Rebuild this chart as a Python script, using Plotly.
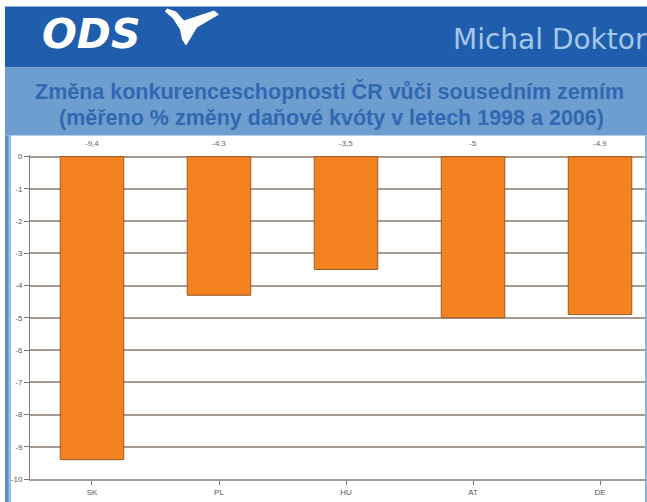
import plotly.graph_objects as go

# ---- data ----
countries = ["SK", "PL", "HU", "AT", "DE"]
change = [-9.4, -4.3, -3.5, -5.0, -4.9]
value_labels = ["-9,4", "-4,3", "-3,5", "-5", "-4,9"]
y_ticks = [0, -1, -2, -3, -4, -5, -6, -7, -8, -9, -10]
title_line1 = "Změna konkurenceschopnosti ČR vůči sousedním zemím"
title_line2 = "(měřeno % změny daňové kvóty v letech 1998 a 2006)"
logo_text = "ODS"
author = "Michal Doktor"

# ---- layout geometry (pixels) ----
W, H = 647, 502
PL, PR = 30, 645          # plot area x
PT, PB = 155.4, 479       # plot area y
YMAX, YMIN = 0.05, -10

def px(x):
    return (x - PL) / (PR - PL)

def py(y):
    return (PB - y) / (PB - PT)

fig = go.Figure()
fig.add_trace(go.Bar(
    x=list(range(len(countries))), y=change,
    marker=dict(color="#F4821F", line=dict(color="#9A5A25", width=1)),
    width=0.5, showlegend=False, hoverinfo="y",
))

shapes = []
# dark banner
shapes.append(dict(type="rect", xref="paper", yref="paper", x0=px(5), x1=px(W + 2),
                   y0=py(68), y1=py(7), fillcolor="#1F5EAD", line=dict(width=0), layer="below"))
# light title band
shapes.append(dict(type="rect", xref="paper", yref="paper", x0=px(5), x1=px(W + 2),
                   y0=py(136), y1=py(68), fillcolor="#6E9ED0", line=dict(width=0), layer="below"))
# left border strip
shapes.append(dict(type="rect", xref="paper", yref="paper", x0=px(5), x1=px(11),
                   y0=py(H + 2), y1=py(136), fillcolor="#5F90CC", line=dict(width=0), layer="below"))
shapes.append(dict(type="rect", xref="paper", yref="paper", x0=px(8.5), x1=px(11),
                   y0=py(H + 2), y1=py(136), fillcolor="#9DBDE3", line=dict(width=0), layer="below"))
# right border strip
shapes.append(dict(type="rect", xref="paper", yref="paper", x0=px(645), x1=px(W + 2),
                   y0=py(H + 2), y1=py(136), fillcolor="#8DB2DD", line=dict(width=0), layer="below"))

# bird logo
bird = [(167, 9), (176, 12), (184, 21), (214, 11), (219, 15), (197, 28), (191, 38),
        (186, 46), (182, 40), (180, 30), (173, 19), (165, 12)]
path = "M " + " L ".join(f"{px(a):.5f},{py(b):.5f}" for a, b in bird) + " Z"
shapes.append(dict(type="path", xref="paper", yref="paper", path=path,
                   fillcolor="white", line=dict(width=0)))

annotations = []
annotations.append(dict(xref="paper", yref="paper", x=px(40), y=py(35), xanchor="left", yanchor="middle",
                        text=f"<b><i>{logo_text}</i></b>", showarrow=False,
                        font=dict(family="DejaVu Sans", size=41, color="white")))
annotations.append(dict(xref="paper", yref="paper", x=px(451), y=py(40), xanchor="left", yanchor="middle",
                        text=author, showarrow=False,
                        font=dict(family="DejaVu Sans", size=28, color="#A6C6EC")))
annotations.append(dict(xref="paper", yref="paper", x=px(329), y=py(92), xanchor="center", yanchor="middle",
                        text=f"<b>{title_line1}</b>", showarrow=False,
                        font=dict(family="Liberation Sans", size=21.5, color="#3068B2")))
annotations.append(dict(xref="paper", yref="paper", x=px(331), y=py(118), xanchor="center", yanchor="middle",
                        text=f"<b>{title_line2}</b>", showarrow=False,
                        font=dict(family="Liberation Sans", size=21.5, color="#3068B2")))
for i, lab in enumerate(value_labels):
    annotations.append(dict(xref="x", yref="y", x=i, y=0, yshift=13, xanchor="center", yanchor="middle",
                            text=lab, showarrow=False,
                            font=dict(family="Liberation Sans", size=8, color="#666666")))

grid_col = "#A89892"
fig.update_layout(
    width=W, height=H,
    margin=dict(l=PL, r=W - PR, t=PT, b=H - PB, pad=0),
    paper_bgcolor="white", plot_bgcolor="white",
    shapes=shapes, annotations=annotations,
    xaxis=dict(
        range=[-0.488, 4.354], tickmode="array", tickvals=list(range(len(countries))),
        ticktext=countries, showgrid=False, zeroline=False,
        showline=True, linecolor=grid_col, linewidth=2,
        ticks="outside", ticklen=4, tickcolor="#777777", tickwidth=1,
        tickfont=dict(family="Liberation Sans", size=8, color="#555555"),
        fixedrange=True,
    ),
    yaxis=dict(
        range=[YMIN, YMAX], tickmode="array", tickvals=y_ticks,
        ticktext=[str(v) for v in y_ticks],
        showgrid=True, gridcolor=grid_col, gridwidth=2,
        zeroline=True, zerolinecolor=grid_col, zerolinewidth=2,
        showline=True, linecolor="#8A7A74", linewidth=1,
        ticks="outside", ticklen=5, tickcolor="#777777", tickwidth=1,
        tickfont=dict(family="Liberation Sans", size=8, color="#555555"),
        fixedrange=True,
    ),
    bargap=0.5,
)

fig.write_html("out.html", config={"displayModeBar": False},
               post_script="document.body.style.margin='0';document.body.style.overflow='hidden';")
